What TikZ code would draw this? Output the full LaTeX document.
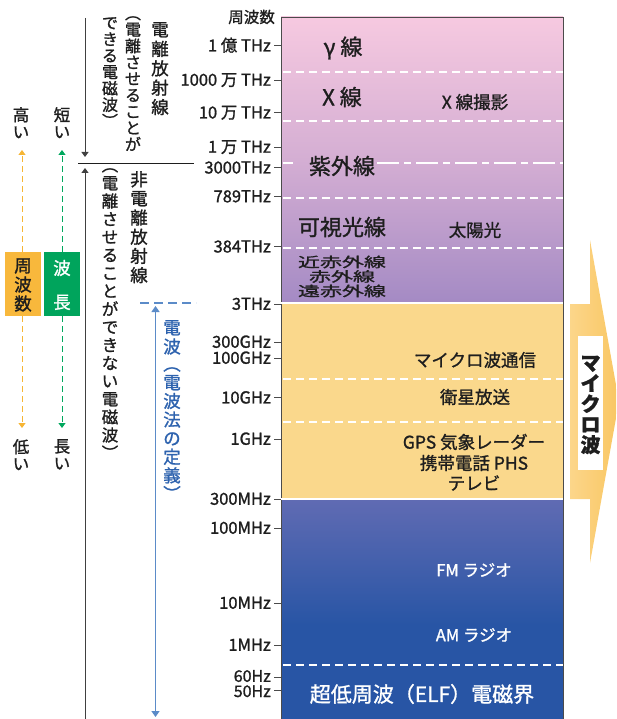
\documentclass[tikz,border=0pt]{standalone}
\usepackage{fontspec}
\setmainfont{Noto Sans CJK JP}[FakeBold=1.2]
\usetikzlibrary{arrows.meta}
\definecolor{pinkT}{HTML}{F6C9E0}
\definecolor{pinkM}{HTML}{D4AED3}
\definecolor{pinkB}{HTML}{A48AC4}
\definecolor{yel}{HTML}{FAD88C}
\definecolor{blueT}{HTML}{606BB3}
\definecolor{blueB}{HTML}{2855A5}
\definecolor{arrL}{HTML}{FCD68A}
\definecolor{arrR}{HTML}{F9C662}
\definecolor{boxO}{HTML}{F8B83C}
\definecolor{boxG}{HTML}{00A45C}
\definecolor{lineO}{HTML}{F6B535}
\definecolor{lineG}{HTML}{00A85E}
\definecolor{radB}{HTML}{5B8BC8}
\definecolor{radT}{HTML}{2D62AE}
\definecolor{ink}{HTML}{1E1E1E}
\newcommand{\fsz}[2]{\fontsize{#1}{#2}\selectfont}
\begin{document}
\begin{tikzpicture}[x=1pt,y=-1pt,
  tick/.style={draw=ink!80, line width=0.8pt},
  ticklab/.style={anchor=east, inner sep=0pt, font=\fsz{16.5}{18}, text=ink, text height=11.5pt, text depth=0pt},
  band/.style={inner sep=0pt, font=\fsz{22}{24}, text=ink},
  bandsub/.style={inner sep=0pt, font=\fsz{17.5}{20}, text=ink},
  wband/.style={inner sep=0pt, font=\fsz{16.5}{19}, text=white},
  vtext/.style={align=center, inner sep=0pt, anchor=north, text=ink},
  sepdash/.style={draw=white, line width=2pt, dash pattern=on 8pt off 5pt},
  sepline/.style={draw=white, line width=2.5pt},
  axisline/.style={draw=ink!85, line width=0.9pt},
  tipk/.style={-{Triangle[length=5pt,width=7pt]}}
]
\useasboundingbox (0,0) rectangle (616,719);
\clip (0,0) rectangle (616,719);

% ---------- main bar ----------
\shade[top color=pinkT, bottom color=pinkM] (281,17) rectangle (563,160);
\shade[top color=pinkM, bottom color=pinkB] (281,160) rectangle (563,303);
\fill[yel] (281,303) rectangle (563,499);
\shade[top color=blueT, bottom color=blueB] (281,499) rectangle (563,625);
\fill[blueB] (281,625) rectangle (563,719);
\draw[ink!80, line width=0.8pt] (281,719) -- (281,17) -- (563,17) -- (563,719);
\draw[sepline] (281,303) -- (563,303);
\draw[sepline] (281,499) -- (563,499);

% dashed separators
\draw[sepdash] (283,72) -- (563,72);
\draw[sepdash] (283,121) -- (563,121);
\draw[draw=white, line width=2pt, dash pattern=on 22pt off 5pt on 7pt off 5pt] (377,163) -- (563,163);
\draw[draw=white, line width=2pt] (283,163) -- (293,163);
\draw[sepdash] (283,198) -- (563,198);
\draw[sepdash] (283,248) -- (563,248);
\draw[sepdash] (283,379) -- (563,379);
\draw[sepdash] (283,422) -- (563,422);
\draw[sepdash] (283,665) -- (563,665);

% ---------- frequency labels ----------
\node[anchor=east, inner sep=0pt, font=\fsz{15.5}{17}, text=ink] (hdr) at (275,17) {周波数};
\foreach \y/\t [count=\i] in {45.7/{1 億 THz},80/{1000 万 THz},112.7/{10 万 THz},147/{1 万 THz},167.7/{3000THz},196.5/{789THz},246.7/{384THz},304/{3THz},342/{300GHz},358/{100GHz},397.7/{10GHz},439/{1GHz},499/{300MHz},528/{100MHz},603/{10MHz},645/{1MHz}}{
  \coordinate (ta\i) at (274,\y);
  \coordinate (tb\i) at (281,\y);
  \draw[tick] (ta\i) -- (tb\i);
  \node[ticklab] (lab\i) at (271,\y) {\t};
}
\coordinate (ta60) at (274,677);
\coordinate (tb60) at (281,677);
\coordinate (ta50) at (274,690.7);
\coordinate (tb50) at (281,690.7);
\draw[tick] (ta60) -- (tb60);
\draw[tick] (ta50) -- (tb50);
\node[ticklab, font=\fsz{16}{17}, text height=11pt] (lab60) at (271,676.3) {60Hz};
\node[ticklab, font=\fsz{16}{17}, text height=11pt] (lab50) at (271,691.5) {50Hz};

% ---------- band texts ----------
\node[band] (gam) at (343,48) {γ 線};
\node[band] (xr) at (342,97) {X 線};
\node[bandsub] (xuse) at (475,102) {X 線撮影};
\node[band] (uv) at (342,166) {紫外線};
\node[band] (vis) at (342,227) {可視光線};
\node[bandsub] (sun) at (475,230) {太陽光};
\node[inner sep=0pt, font=\fsz{22}{24}, yscale=0.62, text=ink] (nir) at (342,262) {近赤外線};
\node[inner sep=0pt, font=\fsz{22}{24}, yscale=0.62, text=ink] (ir) at (342,276.5) {赤外線};
\node[inner sep=0pt, font=\fsz{22}{24}, yscale=0.62, text=ink] (fir) at (342,291) {遠赤外線};
\node[bandsub] (mwc) at (475,360) {マイクロ波通信};
\node[bandsub] (sat) at (475,397) {衛星放送};
\node[bandsub] (gps) at (474,442) {GPS 気象レーダー};
\node[bandsub] (mob) at (474,463) {携帯電話 PHS};
\node[bandsub] (tv) at (474,483) {テレビ};
\node[wband] (fm) at (474,570) {FM ラジオ};
\node[wband] (am) at (474,635) {AM ラジオ};
\node[inner sep=0pt, font=\fsz{21}{23}, text=white] (elf) at (422,694) {超低周波（ELF）電磁界};

% ---------- microwave arrow ----------
\shade[left color=arrL, right color=arrR] (570,304) -- (590,304) -- (590,240) -- (619,401.5) -- (590,563) -- (590,499) -- (570,499) -- cycle;
\node[fill=white, minimum width=25pt, minimum height=134pt, inner sep=0pt] (mwbox) at (590.5,403) {};
\node[vtext, anchor=center, font=\fsz{20}{20.5}\bfseries] (mwtxt) at (590.5,405) {マ\\イ\\ク\\ロ\\波};

% ---------- ionizing / non-ionizing ----------
\coordinate (ion0) at (85,18);
\coordinate (ion1) at (85,157);
\coordinate (non0) at (85,719);
\coordinate (non1) at (85,168);
\coordinate (divL) at (78,163);
\coordinate (divR) at (194,163);
\draw[axisline, tipk] (ion0) -- (ion1);
\draw[axisline, tipk] (non0) -- (non1);
\draw[ink, line width=0.9pt] (divL) -- (divR);

\node[vtext, font=\fsz{17.5}{19.4}] (ion) at (160,22) {電\\離\\放\\射\\線};
\node[vtext, font=\fsz{16}{16.4}] (ionp) at (133,16) {︵\\電\\離\\さ\\せ\\る\\こ\\と\\が};
\node[vtext, font=\fsz{16}{16.4}] (ionq) at (110,17) {で\\き\\る\\電\\磁\\波\\︶};
\node[vtext, font=\fsz{17.5}{19.2}] (nion) at (139,171) {非\\電\\離\\放\\射\\線};
\node[vtext, font=\fsz{16.5}{18}] (nionp) at (110,168) {︵\\電\\離\\さ\\せ\\る\\こ\\と\\が\\で\\き\\な\\い\\電\\磁\\波\\︶};

% ---------- radio waves ----------
\coordinate (rdL) at (140,303);
\coordinate (rdR) at (196,303);
\coordinate (rd0) at (155.5,306);
\coordinate (rd1) at (155.5,717);
\draw[radB, line width=1.2pt, dash pattern=on 9pt off 5pt] (rdL) -- (rdR);
\draw[radB, line width=1.3pt, {Triangle[length=6pt,width=8pt]}-{Triangle[length=6pt,width=8pt]}] (rd0) -- (rd1);
\node[vtext, font=\fsz{17.5}{19}, text=radT] (radio) at (172,320) {電\\波};
\node[vtext, font=\fsz{17.5}{18.6}, text=radT] (radiop) at (172,367) {︵\\電\\波\\法\\の\\定\\義\\︶};

% ---------- legend ----------
\node[vtext, font=\fsz{16.5}{17}] (hi) at (21,107) {高\\い};
\node[vtext, font=\fsz{16.5}{17}] (sh) at (62,107) {短\\い};
\node[vtext, font=\fsz{16.5}{17}] (lo) at (21,439) {低\\い};
\node[vtext, font=\fsz{16.5}{17}] (lg) at (62,439) {長\\い};
\node[fill=boxO, minimum width=36pt, minimum height=64pt, inner sep=0pt] (fbox) at (23,284) {};
\node[vtext, anchor=center, font=\fsz{17.5}{19}] (ftxt) at (23,285) {周\\波\\数};
\node[fill=boxG, minimum width=36pt, minimum height=64pt, inner sep=0pt] (wbox) at (62,284) {};
\node[vtext, anchor=center, font=\fsz{17.5}{34}, text=white] (wtxt) at (62,285) {波\\長};

\coordinate (fo0) at (22,150);
\coordinate (fo1) at (22,428);
\coordinate (go0) at (62,150);
\coordinate (go1) at (62,428);
\draw[lineO, line width=1pt, dash pattern=on 6pt off 4pt, -{Triangle[length=5pt,width=7pt]}] (fbox.north -| fo0) -- (fo0);
\draw[lineO, line width=1pt, dash pattern=on 6pt off 4pt, -{Triangle[length=5pt,width=7pt]}] (fbox.south -| fo1) -- (fo1);
\draw[lineG, line width=1pt, dash pattern=on 6pt off 4pt, -{Triangle[length=5pt,width=7pt]}] (wbox.north -| go0) -- (go0);
\draw[lineG, line width=1pt, dash pattern=on 6pt off 4pt, -{Triangle[length=5pt,width=7pt]}] (wbox.south -| go1) -- (go1);
\end{tikzpicture}
\end{document}
